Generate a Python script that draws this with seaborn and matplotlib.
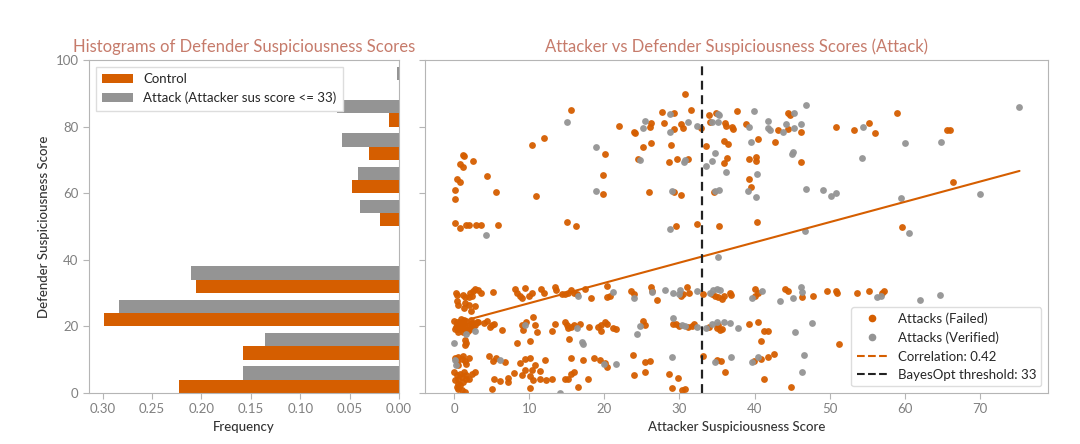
import numpy as np
import pandas as pd
import matplotlib
matplotlib.use("Agg")
import matplotlib.pyplot as plt
import seaborn as sns
from matplotlib.lines import Line2D

# ---------------- data ----------------
bin_starts = [0, 10, 20, 30, 40, 50, 60, 70, 80, 90]
control_freq = [0.223, 0.158, 0.299, 0.206, 0.0, 0.019, 0.048, 0.030, 0.010, 0.0]
attack_freq = [0.158, 0.136, 0.284, 0.211, 0.0, 0.039, 0.041, 0.058, 0.063, 0.002]
hist_labels = ["Control", "Attack (Attacker sus score <= 33)"]

failed_pts = [
    # upper region
    (15.6, 85.0), (22.0, 80.1), (24.0, 78.3), (12.0, 76.7), (10.3, 74.4), (20.1, 71.7),
    (1.1, 71.5), (1.3, 71.2), (2.5, 69.7), (0.8, 68.8), (1.1, 68.0), (0.4, 64.2), (0.8, 63.4),
    (4.4, 65.2), (19.8, 65.5), (0.1, 60.9), (5.6, 60.4), (19.8, 59.8), (0.1, 58.4), (10.9, 59.3),
    (0.1, 51.0), (0.7, 49.6), (1.5, 50.3), (1.9, 50.3), (2.9, 50.5), (3.5, 50.5), (5.8, 50.3),
    (15.0, 51.4), (16.2, 50.1), (29.5, 50.1), (32.3, 50.6), (35.3, 50.1), (40.3, 51.2), (59.7, 49.9),
    (30.8, 89.9), (27.7, 84.5), (29.3, 84.2), (31.6, 84.9), (26.2, 81.1), (26.1, 80.0), (28.0, 81.1),
    (30.2, 80.8), (30.5, 79.5), (32.9, 79.7), (29.3, 79.2), (24.1, 78.2), (25.1, 73.8), (26.2, 75.0),
    (28.9, 74.6), (33.9, 83.5), (34.9, 84.2), (34.1, 81.3), (36.1, 81.2), (36.2, 80.3), (37.0, 80.0),
    (37.1, 79.3), (37.7, 84.7), (38.8, 80.9), (43.1, 79.0), (44.5, 84.2), (44.7, 83.4), (44.5, 79.3),
    (46.2, 78.5), (50.8, 79.8), (33.6, 74.2), (36.0, 75.6), (36.5, 74.7), (40.4, 76.2), (42.7, 75.5),
    (24.5, 70.2), (28.6, 69.3), (29.7, 70.3), (31.1, 70.3), (36.3, 70.5), (36.0, 69.2), (39.3, 70.3),
    (40.2, 71.0), (40.2, 69.7), (46.2, 69.5), (39.3, 64.4), (39.5, 61.8), (25.9, 60.5), (29.3, 60.3),
    (30.2, 59.4), (34.6, 60.5), (59.0, 84.2), (53.3, 79.0), (55.3, 81.1), (56.1, 78.0), (65.6, 79.1),
    (66.1, 79.1), (66.4, 63.3),
    # row ~30
    (0.2, 30.1), (0.3, 29.4), (1.2, 29.4), (1.4, 28.7), (1.9, 28.9), (2.1, 30.1), (2.5, 30.7),
    (2.8, 31.2), (3.2, 30.9), (2.3, 29.1), (3.6, 30.1), (5.2, 30.4), (8.1, 31.2), (8.4, 29.9),
    (8.7, 29.1), (9.0, 28.6), (9.4, 31.6), (9.9, 29.2), (10.3, 29.9), (11.5, 31.2), (11.9, 29.9),
    (13.4, 31.7), (13.6, 30.9), (14.3, 29.6), (14.8, 29.7), (15.2, 29.9), (15.6, 30.9), (16.0, 30.1),
    (16.3, 29.6), (17.4, 31.2), (18.2, 28.6), (20.4, 32.2), (20.3, 28.9), (20.8, 29.2), (23.9, 29.6),
    (23.5, 30.6), (26.2, 31.9), (26.4, 30.6), (27.0, 27.9), (30.2, 29.1), (30.5, 29.7), (31.0, 31.9),
    (31.3, 29.9), (33.2, 29.6), (34.3, 29.6), (34.8, 29.2), (35.2, 28.9), (35.7, 28.2), (35.9, 29.2),
    (36.7, 30.0), (36.9, 29.4), (40.1, 31.2), (40.0, 29.2), (40.5, 30.1), (44.1, 31.2), (44.5, 30.6),
    (46.3, 28.9), (47.8, 29.2), (49.6, 30.7), (50.8, 30.7), (51.0, 29.9), (53.6, 29.9), (55.2, 30.7),
    (57.0, 29.9), (57.3, 30.6), (55.1, 24.8),
    # row ~25
    (0.4, 27.6), (0.5, 26.4), (1.4, 26.9), (2.0, 26.4), (1.3, 25.4), (2.2, 24.5), (2.7, 26.0),
    # cluster ~20
    (0.0, 21.6), (0.3, 20.3), (0.5, 19.3), (0.8, 21.3), (1.0, 19.8), (1.2, 20.8), (1.4, 18.8),
    (1.6, 21.5), (1.9, 20.3), (2.1, 19.3), (2.3, 21.1), (2.5, 19.8), (2.8, 20.5), (3.0, 21.3),
    (0.5, 18.3), (1.1, 18.3), (1.8, 18.5), (0.1, 19.1), (0.9, 22.1), (1.3, 21.9), (2.2, 21.8),
    (3.2, 21.3), (0.3, 21.3), (0.8, 20.3), (1.4, 20.3), (2.3, 20.3), (0.2, 19.8), (1.2, 19.5),
    (3.9, 21.1), (4.3, 21.6), (4.8, 19.9), (5.0, 20.5), (5.3, 20.8), (6.3, 19.0), (9.0, 20.5),
    (9.2, 18.8), (9.6, 21.3), (10.5, 22.8), (10.8, 20.3), (11.0, 18.3), (13.0, 18.5), (13.4, 20.8),
    (14.8, 21.3), (15.0, 20.3), (15.2, 19.5), (15.6, 19.8), (15.9, 20.3), (16.7, 20.8), (17.9, 19.8),
    (19.2, 19.8), (19.6, 20.5), (20.1, 21.3), (20.3, 20.8), (19.6, 18.5), (21.2, 19.5), (21.6, 19.3),
    (15.3, 16.1), (8.4, 15.1), (10.1, 15.5), (1.4, 15.8), (1.4, 14.3), (1.5, 15.1),
    (25.2, 21.6), (25.4, 20.4), (29.2, 20.7), (29.6, 20.6), (29.9, 20.1), (31.2, 19.7), (31.7, 20.1),
    (32.0, 20.7), (33.9, 19.9), (35.0, 19.4), (35.4, 18.9), (35.7, 19.2), (35.2, 20.4), (39.3, 20.6),
    (40.4, 21.4), (41.2, 18.7), (41.8, 18.7), (40.8, 15.6), (51.2, 14.7),
    # row ~10
    (0.1, 10.5), (0.3, 9.3), (0.5, 10.8), (1.0, 10.3), (1.4, 9.5), (1.9, 10.5), (1.6, 8.8),
    (0.5, 8.3), (1.2, 11.1), (4.6, 11.0), (5.2, 9.5), (5.6, 10.5), (6.8, 9.3), (8.8, 9.0),
    (9.4, 10.3), (10.1, 10.5), (10.8, 8.5), (12.1, 9.8), (15.5, 10.5), (17.2, 9.8), (18.6, 10.5),
    (19.4, 9.8), (20.1, 9.0), (20.4, 7.8), (23.8, 11.3), (23.9, 5.3),
    (25.4, 9.4), (26.1, 9.7), (25.4, 6.4), (28.6, 5.7), (29.8, 4.4), (29.0, 1.4), (30.3, 0.9),
    (30.7, 1.2), (33.1, 11.1), (35.0, 9.9), (35.6, 9.7), (36.1, 6.4), (39.9, 9.6), (40.8, 10.1),
    (41.8, 10.9), (42.6, 11.6), (41.3, 4.3), (44.8, 1.7),
    # row ~0-6
    (0.0, 6.3), (0.3, 5.3), (0.5, 4.3), (0.8, 5.8), (1.0, 4.8), (1.3, 6.3), (1.6, 5.3), (1.9, 4.3),
    (2.3, 5.8), (2.8, 6.3), (0.1, 3.8), (0.5, 2.8), (1.2, 3.3), (0.3, 1.8), (0.5, 1.3), (1.0, 0.8),
    (1.4, 0.3), (0.8, 2.3), (1.6, 4.1),
    (5.3, 4.1), (6.1, 3.5), (7.1, 4.5), (7.2, 3.3), (7.9, 6.1), (9.0, 5.3), (10.1, 5.1), (10.5, 3.8),
    (11.4, 4.1), (12.2, 3.8), (13.0, 4.1), (9.4, 6.8), (10.3, 6.8), (11.4, 6.5), (14.8, 4.1),
    (15.2, 4.3), (15.5, 5.8), (15.9, 6.3), (16.5, 1.8), (17.8, 4.3), (10.1, 1.6), (5.0, 1.1),
]

verified_pts = [
    (15.0, 81.4), (18.9, 73.9), (18.9, 60.6), (4.2, 47.4), (28.8, 49.1), (28.7, 83.7), (25.4, 81.6),
    (25.2, 79.7), (31.2, 81.3), (32.4, 80.3), (28.7, 78.3), (35.1, 83.9), (35.3, 83.5), (34.3, 81.4),
    (35.1, 81.5), (39.9, 84.7), (39.2, 80.0), (41.8, 81.6), (41.8, 79.5), (42.1, 78.9), (43.8, 78.4),
    (45.3, 84.2), (44.2, 80.9), (45.2, 79.6), (46.2, 80.9), (46.9, 86.6), (34.8, 72.1), (39.5, 75.3),
    (45.0, 71.9), (45.1, 72.5), (24.7, 69.9), (30.6, 69.5), (30.8, 70.0), (33.6, 68.2), (34.4, 69.8),
    (36.2, 66.4), (40.3, 65.8), (39.1, 60.7), (40.2, 58.9), (29.0, 60.7), (34.7, 60.7), (35.3, 61.0),
    (46.9, 61.2), (49.1, 61.0), (50.2, 59.2), (50.9, 60.2), (54.5, 79.8), (60.1, 75.2), (64.9, 75.4),
    (75.2, 86.0), (54.3, 70.5), (59.5, 58.7), (70.0, 59.7), (60.6, 48.0), (46.7, 48.5), (35.1, 40.7),
    (16.5, 29.1), (21.2, 30.4), (24.0, 28.4), (1.6, 17.8), (2.8, 18.6), (9.4, 20.3), (16.4, 19.5),
    (17.2, 14.8), (17.0, 15.2), (0.0, 14.9), (6.1, 9.9), (20.0, 8.8), (21.5, 8.8), (0.1, 9.8),
    (0.2, 8.5), (14.1, 0.1),
    (26.3, 30.4), (28.1, 30.9), (29.1, 30.1), (30.1, 30.8), (30.0, 29.7), (32.3, 30.7), (34.1, 29.9),
    (34.5, 30.9), (35.0, 31.1), (35.4, 30.8), (39.7, 28.4), (41.0, 30.6), (43.4, 27.6), (45.1, 28.6),
    (46.2, 31.7), (46.3, 30.4), (56.3, 28.9), (56.8, 29.1), (62.1, 27.9), (64.7, 29.4),
    (24.7, 20.1), (24.3, 17.6), (29.1, 22.4), (30.3, 20.4), (30.8, 20.1), (32.4, 19.7), (33.6, 19.4),
    (34.3, 20.6), (35.0, 21.2), (35.9, 21.4), (36.7, 20.9), (37.8, 19.6), (45.4, 18.2), (47.6, 21.1),
    (29.0, 10.9), (34.8, 9.4), (36.8, 10.9), (39.6, 9.4), (40.4, 10.9), (46.6, 11.4), (46.3, 6.2),
]

failed_x = [p[0] for p in failed_pts]
failed_y = [p[1] for p in failed_pts]
verified_x = [p[0] for p in verified_pts]
verified_y = [p[1] for p in verified_pts]

corr_intercept = 20.9
corr_slope = 0.608
corr_x = [2.2, 75.3]
corr_value = 0.42
threshold = 33

# ---------------- style ----------------
ORANGE = "#d55e00"
GRAY = "#949494"
TITLE_C = "#c67b6b"
TICK_C = "#808080"
LABEL_C = "#333333"
SPINE_C = "#b5b5b5"

sns.set_style("ticks")
plt.rcParams["font.family"] = ["Lato", "DejaVu Sans"]
plt.rcParams["axes.edgecolor"] = SPINE_C
plt.rcParams["xtick.color"] = SPINE_C
plt.rcParams["ytick.color"] = SPINE_C
plt.rcParams["xtick.labelcolor"] = TICK_C
plt.rcParams["ytick.labelcolor"] = TICK_C

fig = plt.figure(figsize=(10.8, 4.44), dpi=100)
ax1 = fig.add_axes([0.0824, 0.1149, 0.287, 0.75])
ax2 = fig.add_axes([0.3935, 0.1149, 0.5769, 0.75], sharey=ax1)

# ---------------- left: histogram ----------------
hist_df = pd.DataFrame({
    "score": bin_starts * 2,
    "freq": control_freq + attack_freq,
    "group": [hist_labels[0]] * len(bin_starts) + [hist_labels[1]] * len(bin_starts),
})
edges = [b - 1 for b in bin_starts] + [bin_starts[-1] + 9]
sns.histplot(data=hist_df, y="score", weights="freq", hue="group", hue_order=hist_labels,
             bins=edges, multiple="dodge", shrink=0.8, stat="count",
             palette={hist_labels[0]: ORANGE, hist_labels[1]: GRAY},
             alpha=1, linewidth=0, edgecolor="none", ax=ax1)
ax1.invert_xaxis()
ax1.set_ylim(0, 100)
ax1.set_yticks([0, 20, 40, 60, 80, 100])
ax1.set_xticks([0.30, 0.25, 0.20, 0.15, 0.10, 0.05, 0.00])
ax1.set_xticklabels(["0.30", "0.25", "0.20", "0.15", "0.10", "0.05", "0.00"])
ax1.set_xlabel("Frequency", fontsize=9.5, color=LABEL_C, fontweight="medium")
ax1.set_ylabel("Defender Suspiciousness Score", fontsize=9.5, color=LABEL_C, fontweight="medium")
ax1.set_title("Histograms of Defender Suspiciousness Scores", fontsize=12, color=TITLE_C, pad=6)
sns.move_legend(ax1, "upper left", title=None, frameon=True, fontsize=9.5,
                edgecolor="#dddddd", fancybox=False, framealpha=1,
                handlelength=2.3, borderpad=0.5, labelspacing=0.5)

# ---------------- right: scatter ----------------
sns.scatterplot(x=failed_x, y=failed_y, color=ORANGE, s=24, linewidth=0, alpha=0.95, ax=ax2)
sns.scatterplot(x=verified_x, y=verified_y, color=GRAY, s=24, linewidth=0, alpha=0.95, ax=ax2)
corr_y = [corr_intercept + corr_slope * x for x in corr_x]
sns.lineplot(x=corr_x, y=corr_y, color=ORANGE, linewidth=1.5, ax=ax2)
ax2.axvline(threshold, color="#222222", linestyle=(0, (4, 2.5)), linewidth=1.6)
ax2.set_xlim(-3.9, 79.1)
ax2.set_xticks([0, 10, 20, 30, 40, 50, 60, 70])
ax2.tick_params(labelleft=False)
ax2.set_xlabel("Attacker Suspiciousness Score", fontsize=9.5, color=LABEL_C, fontweight="medium")
ax2.set_ylabel("")
ax2.set_title("Attacker vs Defender Suspiciousness Scores (Attack)", fontsize=12, color=TITLE_C, pad=6)

handles = [
    Line2D([], [], marker="o", linestyle="", color=ORANGE, markersize=4.5),
    Line2D([], [], marker="o", linestyle="", color=GRAY, markersize=4.5),
    Line2D([], [], color=ORANGE, linestyle="--", linewidth=1.5),
    Line2D([], [], color="#222222", linestyle="--", linewidth=1.5),
]
labels = ["Attacks (Failed)", "Attacks (Verified)", f"Correlation: {corr_value:.2f}",
          f"BayesOpt threshold: {threshold}"]
ax2.legend(handles, labels, loc="lower right", fontsize=9.5, frameon=True, edgecolor="#dddddd",
           fancybox=True, framealpha=1, handlelength=2.3)

for ax in (ax1, ax2):
    for sp in ax.spines.values():
        sp.set_visible(True)
        sp.set_color(SPINE_C)
    ax.tick_params(labelsize=9.5, length=4, color=SPINE_C, labelcolor=TICK_C)

fig.savefig("out.png", dpi=100)
